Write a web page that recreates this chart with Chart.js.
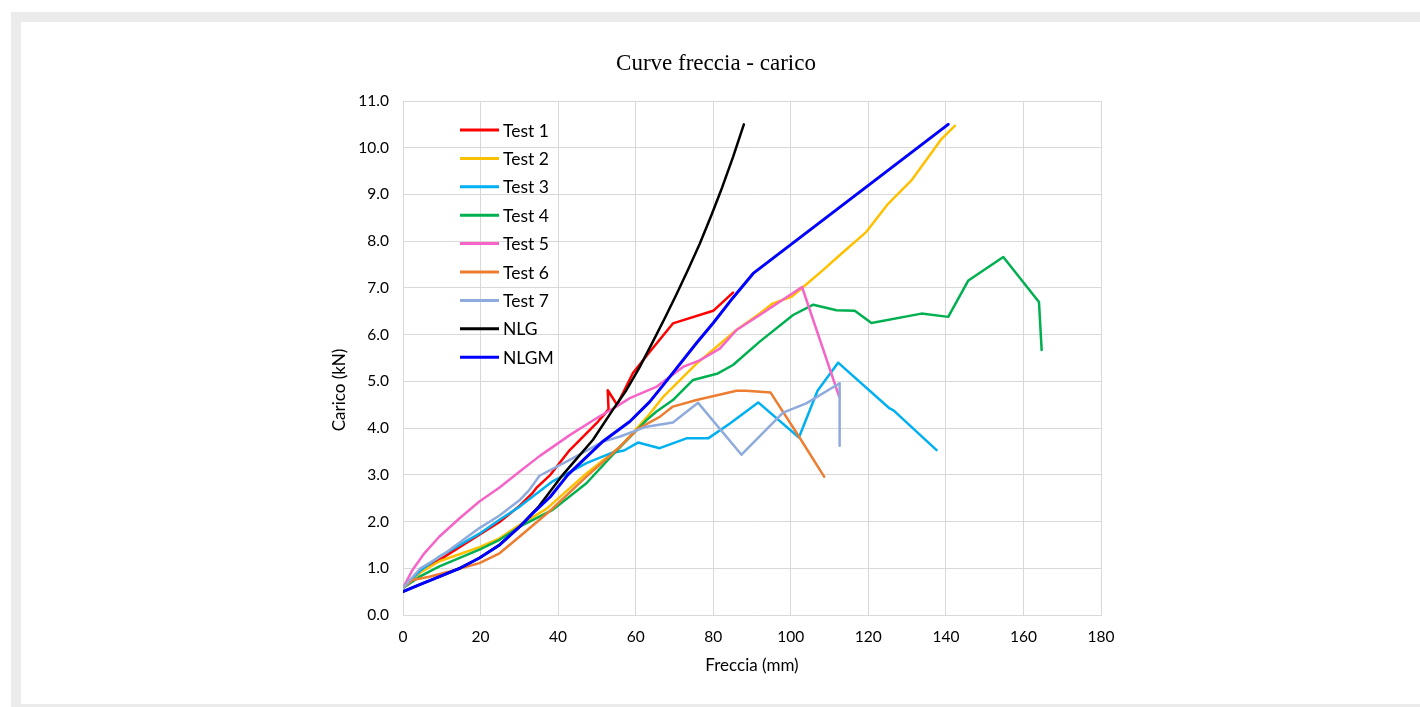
<!DOCTYPE html>
<html>
<head>
<meta charset="utf-8">
<script src="https://cdn.jsdelivr.net/npm/chart.js@4"></script>
<style>
    html, body { margin: 0; padding: 0; background: #fff; overflow: hidden; }
    #wrap { position: relative; width: 1420px; height: 707px; }
    #frame {
        position: absolute; left: 11px; top: 12px;
        width: 1500px; height: 682px;
        border: 10px solid #ebebeb; border-right: none;
    }
    #chart { position: absolute; left: 0; top: 0; }
</style>
</head>
<body>
<div id="wrap">
    <div id="frame"></div>
    <canvas id="chart" width="1420" height="707"></canvas>
</div>
<script>
// Series: [freccia (mm), carico (kN)]
const seriesNames = ['Test 1', 'Test 2', 'Test 3', 'Test 4', 'Test 5', 'Test 6', 'Test 7', 'NLG', 'NLGM'];
const seriesColors = ['#ff0000', '#ffc000', '#00b0f0', '#00b050', '#f564c6', '#ed7d31', '#8faadc', '#000000', '#0000ff'];

const test1 = [[0, 0.58], [4.5, 0.92], [9.4, 1.18], [19.7, 1.72], [24.9, 1.99], [30.1, 2.34], [33.5, 2.62], [34.4, 2.72],
    [38, 3.0], [43, 3.53], [50.3, 4.14], [53, 4.40], [52.8, 4.81], [55.2, 4.50], [59.3, 5.18], [63.6, 5.63],
    [69.6, 6.24], [80, 6.51], [85.1, 6.90]];
const test2 = [[0, 0.58], [4.3, 0.90], [9.4, 1.15], [19.7, 1.45], [24.9, 1.64], [30.1, 1.93], [37, 2.27], [47.3, 3.03],
    [56, 3.60], [63.6, 4.30], [67.1, 4.67], [75.7, 5.38], [86, 6.10], [92, 6.45], [95.4, 6.67], [100.2, 6.81],
    [103.2, 7.02], [108.3, 7.38], [112.6, 7.70], [119.5, 8.20], [125.1, 8.80], [131.1, 9.30], [135.5, 9.80],
    [138.9, 10.19], [142.3, 10.47]];
const test3 = [[0, 0.58], [4.5, 0.95], [9.4, 1.25], [19.7, 1.74], [24.9, 2.04], [30.1, 2.32], [38.6, 2.86], [47.3, 3.25],
    [53.5, 3.46], [57, 3.52], [60.6, 3.69], [66.2, 3.57], [73.1, 3.78], [78.7, 3.78], [84.3, 4.10], [91.6, 4.55],
    [102.1, 3.80], [106.9, 4.80], [112.2, 5.40], [125.5, 4.42], [126.5, 4.38], [137.6, 3.53]];
const test4 = [[0, 0.58], [4.3, 0.82], [9.4, 1.04], [19.7, 1.40], [24.9, 1.61], [30.1, 1.89], [38.6, 2.25], [47.3, 2.82],
    [54.1, 3.43], [62.8, 4.17], [65.3, 4.35], [69.6, 4.60], [74.8, 5.03], [81.2, 5.17], [85.1, 5.35], [92, 5.85],
    [100.6, 6.42], [105.8, 6.64], [111.8, 6.52], [116.5, 6.51], [120.8, 6.25], [133.7, 6.45], [140.6, 6.38],
    [145.8, 7.16], [154.8, 7.66], [164.0, 6.70], [164.7, 5.67]];
const test5 = [[0, 0.58], [2.5, 0.97], [5.5, 1.32], [9.4, 1.68], [14.6, 2.07], [19.7, 2.43], [24.9, 2.73], [30.1, 3.07],
    [35.2, 3.40], [43, 3.85], [49.9, 4.21], [55, 4.46], [58.5, 4.64], [65.3, 4.88], [72.2, 5.31], [76.5, 5.45],
    [81.7, 5.70], [86, 6.10], [92, 6.42], [102.9, 7.02], [112.5, 4.67]];
const test6 = [[0, 0.58], [2.5, 0.75], [6.8, 0.82], [12, 0.93], [19.7, 1.11], [24.9, 1.32], [30.1, 1.68], [37.8, 2.22],
    [47.3, 2.96], [55, 3.53], [60.5, 3.98], [66.2, 4.24], [69.6, 4.46], [75.7, 4.60], [86, 4.80], [88.5, 4.80],
    [94.8, 4.76], [102.1, 3.82], [108.6, 2.96]];
const test7 = [[0, 0.58], [4.5, 1.0], [10.3, 1.29], [19.7, 1.86], [24.9, 2.13], [30.1, 2.46], [32.6, 2.68], [35.2, 2.98],
    [43, 3.32], [51.6, 3.71], [56, 3.82], [62.8, 4.03], [69.6, 4.12], [76.1, 4.54], [87.3, 3.43], [98, 4.33],
    [104, 4.53], [112.6, 4.96], [112.6, 3.62]];
const nlg = [[0, 0.50], [4.3, 0.65], [9.4, 0.82], [14.6, 1.0], [19.7, 1.22], [24.9, 1.50], [30.1, 1.89], [35, 2.32],
    [41.2, 3.0], [43.8, 3.25], [49, 3.75], [54.1, 4.39], [57.6, 4.81], [61, 5.3], [64.5, 5.86], [67.5, 6.35],
    [70.5, 6.86], [73.5, 7.39], [76.5, 7.94], [79.5, 8.55], [82.3, 9.15], [85.1, 9.80], [87.9, 10.50]];
const nlgm = [[0, 0.50], [4.3, 0.65], [9.4, 0.82], [14.6, 1.0], [19.7, 1.22], [24.9, 1.50], [30.1, 1.89], [33.5, 2.18],
    [38, 2.53], [42.5, 3.0], [51.6, 3.72], [58.5, 4.14], [63.6, 4.56], [67.1, 4.92], [75.7, 5.82], [80, 6.25],
    [85, 6.78], [90.3, 7.31], [140.6, 10.50]];

const allSeries = [test1, test2, test3, test4, test5, test6, test7, nlg, nlgm];

const xTicks = [0, 20, 40, 60, 80, 100, 120, 140, 160, 180];
const yTicks = [0, 1, 2, 3, 4, 5, 6, 7, 8, 9, 10, 11];

const tickFont = { family: 'Lato', size: 15.5 };
const titleFont = { family: 'Lato', size: 17 };

// Legend drawn inside the plot (top-left), and the y title sitting a bit low like the original
const insideLegend = {
    id: 'insideLegend',
    afterDraw(chart) {
        const ctx = chart.ctx;
        const area = chart.chartArea;
        ctx.save();
        ctx.font = '17.5px Lato';
        ctx.textBaseline = 'middle';
        ctx.textAlign = 'left';
        chart.data.datasets.forEach((ds, i) => {
            const y = area.top + 29 + i * 28.4;
            ctx.strokeStyle = ds.borderColor;
            ctx.lineWidth = 3;
            ctx.beginPath();
            ctx.moveTo(area.left + 57, y);
            ctx.lineTo(area.left + 96, y);
            ctx.stroke();
            ctx.fillStyle = '#000';
            ctx.fillText(ds.label, area.left + 100, y + 1);
        });

        // y axis title
        ctx.translate(area.left - 63, area.top + 289);
        ctx.rotate(-Math.PI / 2);
        ctx.font = '17px Lato';
        ctx.textAlign = 'center';
        ctx.fillText('Carico (kN)', 0, 0);
        ctx.restore();
    }
};

const ctx = document.getElementById('chart').getContext('2d');
new Chart(ctx, {
    type: 'scatter',
    data: {
        datasets: allSeries.map((s, i) => ({
            label: seriesNames[i],
            data: s.map(p => ({ x: p[0], y: p[1] })),
            borderColor: seriesColors[i],
            backgroundColor: seriesColors[i],
            borderWidth: i === 8 ? 3 : 2.5,
            showLine: true,
            pointRadius: 0,
            tension: 0,
            borderJoinStyle: 'round',
            borderCapStyle: 'round',
            order: allSeries.length - i
        }))
    },
    options: {
        responsive: false,
        animation: false,
        layout: { padding: { left: 331, right: 319, top: 38, bottom: 27 } },
        plugins: {
            legend: { display: false },
            tooltip: { enabled: false },
            title: {
                display: true,
                text: 'Curve freccia - carico',
                color: '#000',
                font: { family: 'Liberation Serif', size: 23, weight: 'normal' },
                padding: { top: 12, bottom: 23.4 }
            }
        },
        scales: {
            x: {
                type: 'linear',
                min: 0,
                max: 180,
                afterBuildTicks: axis => { axis.ticks = xTicks.map(v => ({ value: v })); },
                ticks: { color: '#000', font: tickFont, padding: 13 },
                grid: { color: '#d9d9d9', drawTicks: false },
                border: { color: '#d9d9d9' },
                title: { display: true, text: 'Freccia (mm)', color: '#000', font: titleFont, padding: { top: 0, bottom: 4 } },
                afterFit: s => { s.height = 65; s.paddingLeft = 0; s.paddingRight = 0; }
            },
            y: {
                min: 0,
                max: 11,
                afterBuildTicks: axis => { axis.ticks = yTicks.map(v => ({ value: v })); },
                ticks: { color: '#000', font: tickFont, padding: 14, callback: v => v.toFixed(1) },
                grid: { color: '#d9d9d9', drawTicks: false },
                border: { color: '#d9d9d9' },
                afterFit: s => { s.width = 72; s.paddingTop = 0; s.paddingBottom = 0; }
            }
        }
    },
    plugins: [insideLegend]
});
</script>
</body>
</html>
